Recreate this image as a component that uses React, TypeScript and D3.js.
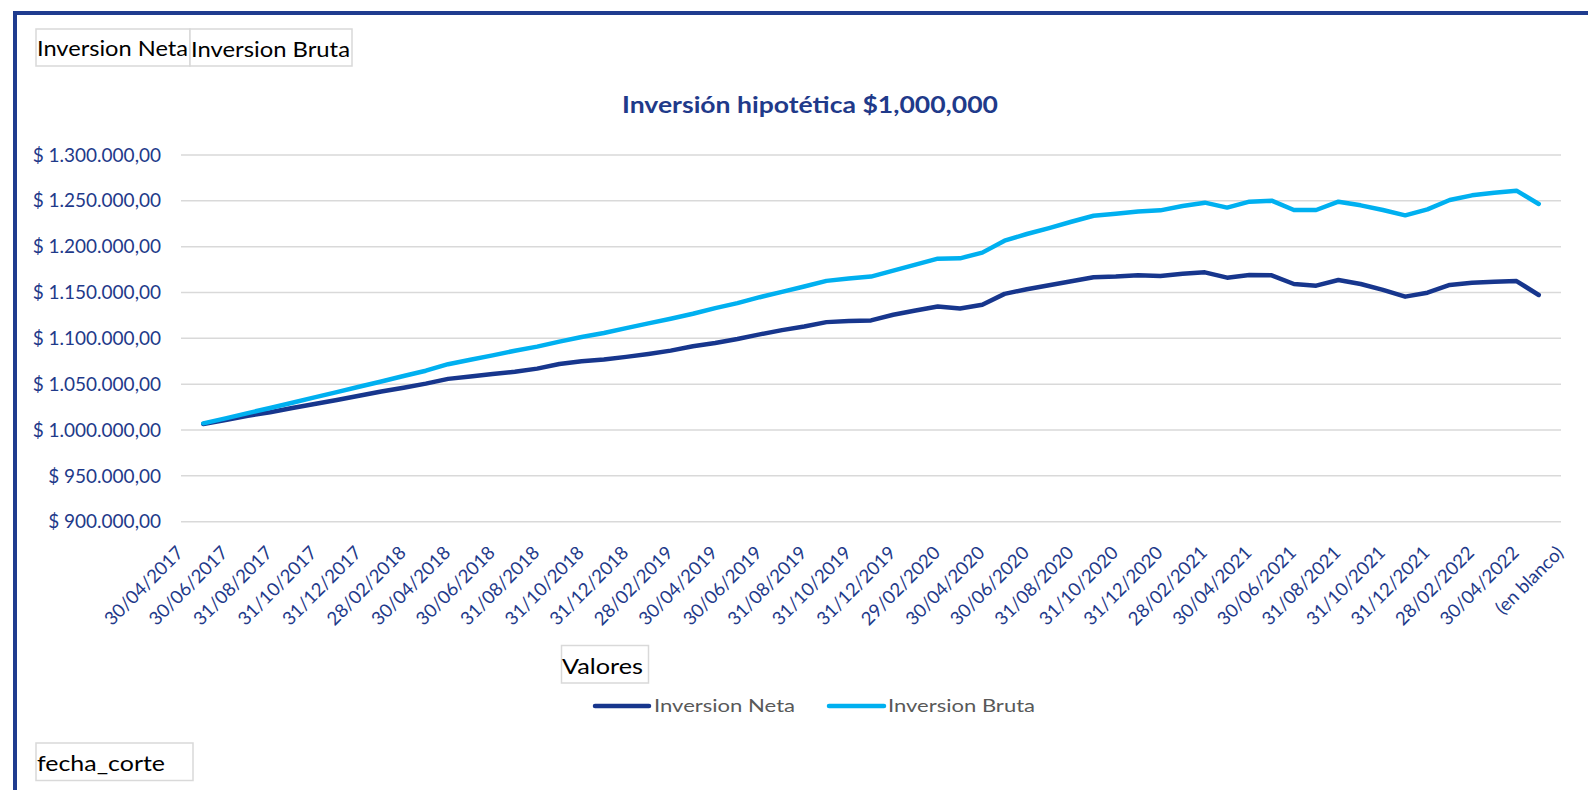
import React from 'react';
import * as d3 from 'd3';

const categories: string[] = [
  '30/04/2017', '31/05/2017', '30/06/2017', '31/07/2017', '31/08/2017', '30/09/2017', '31/10/2017', '30/11/2017', '31/12/2017',
  '31/01/2018', '28/02/2018', '31/03/2018', '30/04/2018', '31/05/2018', '30/06/2018', '31/07/2018', '31/08/2018', '30/09/2018', '31/10/2018', '30/11/2018', '31/12/2018',
  '31/01/2019', '28/02/2019', '31/03/2019', '30/04/2019', '31/05/2019', '30/06/2019', '31/07/2019', '31/08/2019', '30/09/2019', '31/10/2019', '30/11/2019', '31/12/2019',
  '31/01/2020', '29/02/2020', '31/03/2020', '30/04/2020', '31/05/2020', '30/06/2020', '31/07/2020', '31/08/2020', '30/09/2020', '31/10/2020', '30/11/2020', '31/12/2020',
  '31/01/2021', '28/02/2021', '31/03/2021', '30/04/2021', '31/05/2021', '30/06/2021', '31/07/2021', '31/08/2021', '30/09/2021', '31/10/2021', '30/11/2021', '31/12/2021',
  '31/01/2022', '28/02/2022', '31/03/2022', '30/04/2022', '31/05/2022', '(en blanco)',
];

const inversionNeta: (number | null)[] = [
  null,
  1006600, 1010900, 1015600, 1019400, 1024000, 1028400, 1032700, 1037400, 1042000, 1046200,
  1050600, 1055800, 1058400, 1061000, 1063500, 1067000, 1072000, 1075000, 1076900, 1079800,
  1083000, 1086600, 1091300, 1094900, 1099300, 1104300, 1109000, 1113000, 1117700, 1119000,
  1119600, 1125700, 1130400, 1134700, 1132600, 1136600, 1148500, 1153600, 1158000, 1162300,
  1166600, 1167400, 1168800, 1168100, 1170500, 1172000, 1166200, 1169100, 1168700, 1159300,
  1157500, 1163600, 1159300, 1152800, 1145500, 1149800, 1158200, 1160700, 1161800, 1162500,
  1147300,
  null,
];

const inversionBruta: (number | null)[] = [
  null,
  1007300, 1012700, 1018500, 1024000, 1029800, 1035600, 1041400, 1047200, 1053000, 1058900,
  1064700, 1071800, 1076700, 1081400, 1086500, 1091000, 1096400, 1101400, 1105800, 1111200,
  1116300, 1121400, 1126800, 1133000, 1138400, 1144900, 1150700, 1156500, 1162700, 1165200,
  1167400, 1173900, 1180400, 1186900, 1187300, 1193500, 1206500, 1213800, 1220300, 1227200,
  1233700, 1235900, 1238400, 1239600, 1244300, 1248000, 1242600, 1249100, 1250200, 1240000,
  1240000, 1249100, 1245100, 1240000, 1234200, 1240700, 1250900, 1256000, 1258900, 1261100,
  1246600,
  null,
];

const yTicks: number[] = [900000, 950000, 1000000, 1050000, 1100000, 1150000, 1200000, 1250000, 1300000];
const seriesNames: string[] = ['Inversion Neta', 'Inversion Bruta'];
const seriesColors: string[] = ['#17368D', '#00B0F0'];
const titleText = 'Inversión hipotética $1,000,000';

const FONT = 'Lato, Carlito, Calibri, sans-serif';
const AXIS_COLOR = '#1F3A8A';

export default function App() {
  const W = 1588;
  const H = 790;
  const x = d3.scalePoint<string>().domain(categories).range([181, 1561]);
  const y = d3.scaleLinear().domain([900000, 1300000]).range([521.7, 155]);
  const locale = d3.formatLocale({ decimal: ',', thousands: '.', grouping: [3], currency: ['$ ', ''] });
  const fmt = locale.format('$,.2f');

  const lineGen = d3
    .line<number | null>()
    .defined((d) => d != null)
    .x((_, i) => x(categories[i]) as number)
    .y((d) => y(d as number));

  const series = [inversionNeta, inversionBruta];

  return (
    <svg width={W} height={H} style={{ position: 'absolute', left: 0, top: 0, background: '#fff' }} fontFamily={FONT}>
      <rect x={0} y={0} width={W} height={H} fill="#fff" />
      {/* outer frame */}
      <rect x={15} y={13} width={W + 20} height={H + 20} fill="none" stroke="#1F3C8F" strokeWidth={4} />

      {/* slicer buttons */}
      <rect x={36} y={29} width={154} height={37} fill="#fff" stroke="#D9D9D9" strokeWidth={1.5} />
      <rect x={190} y={29} width={162} height={37} fill="#fff" stroke="#D9D9D9" strokeWidth={1.5} />
      <text x={37} y={56} fontSize={21} fill="#000" textLength={151} lengthAdjust="spacingAndGlyphs">Inversion Neta</text>
      <text x={191} y={57} fontSize={21} fill="#000" textLength={159} lengthAdjust="spacingAndGlyphs">Inversion Bruta</text>

      {/* title */}
      <text x={810} y={113} fontSize={23} fontWeight="bold" fill={AXIS_COLOR} textAnchor="middle" textLength={376} lengthAdjust="spacingAndGlyphs">
        {titleText}
      </text>

      {/* gridlines and y labels */}
      {yTicks.map((t) => (
        <g key={t}>
          <line x1={181} x2={1561} y1={y(t)} y2={y(t)} stroke="#D9D9D9" strokeWidth={1.5} />
          <text x={161} y={y(t)} dy="0.35em" textAnchor="end" fontSize={19} fill={AXIS_COLOR}>
            {fmt(t)}
          </text>
        </g>
      ))}

      {/* x labels */}
      {categories.map((c, i) =>
        i % 2 === 0 ? (
          <text
            key={c}
            transform={`translate(${(x(c) as number) + 3.5},554) rotate(-45)`}
            textAnchor="end"
            fontSize={18.5}
            fill={AXIS_COLOR}
          >
            {c}
          </text>
        ) : null
      )}

      {/* lines */}
      {series.map((s, k) => (
        <path
          key={k}
          d={lineGen(s) || ''}
          fill="none"
          stroke={seriesColors[k]}
          strokeWidth={4.5}
          strokeLinejoin="round"
          strokeLinecap="round"
        />
      ))}

      {/* Valores field button */}
      <rect x={561.5} y={645.5} width={87} height={37.5} fill="#fff" stroke="#D9D9D9" strokeWidth={1.5} />
      <text x={562} y={674} fontSize={21} fill="#000" textLength={81} lengthAdjust="spacingAndGlyphs">Valores</text>

      {/* legend */}
      <line x1={595} x2={649} y1={706} y2={706} stroke={seriesColors[0]} strokeWidth={4.5} strokeLinecap="round" />
      <text x={654} y={712} fontSize={18} fill="#595959" textLength={141} lengthAdjust="spacingAndGlyphs">{seriesNames[0]}</text>
      <line x1={829} x2={884} y1={706} y2={706} stroke={seriesColors[1]} strokeWidth={4.5} strokeLinecap="round" />
      <text x={888} y={712} fontSize={18} fill="#595959" textLength={147} lengthAdjust="spacingAndGlyphs">{seriesNames[1]}</text>

      {/* fecha_corte field button */}
      <rect x={36} y={743} width={157} height={37.5} fill="#fff" stroke="#D9D9D9" strokeWidth={1.5} />
      <text x={37} y={771} fontSize={21} fill="#000" textLength={128} lengthAdjust="spacingAndGlyphs">fecha_corte</text>
    </svg>
  );
}
